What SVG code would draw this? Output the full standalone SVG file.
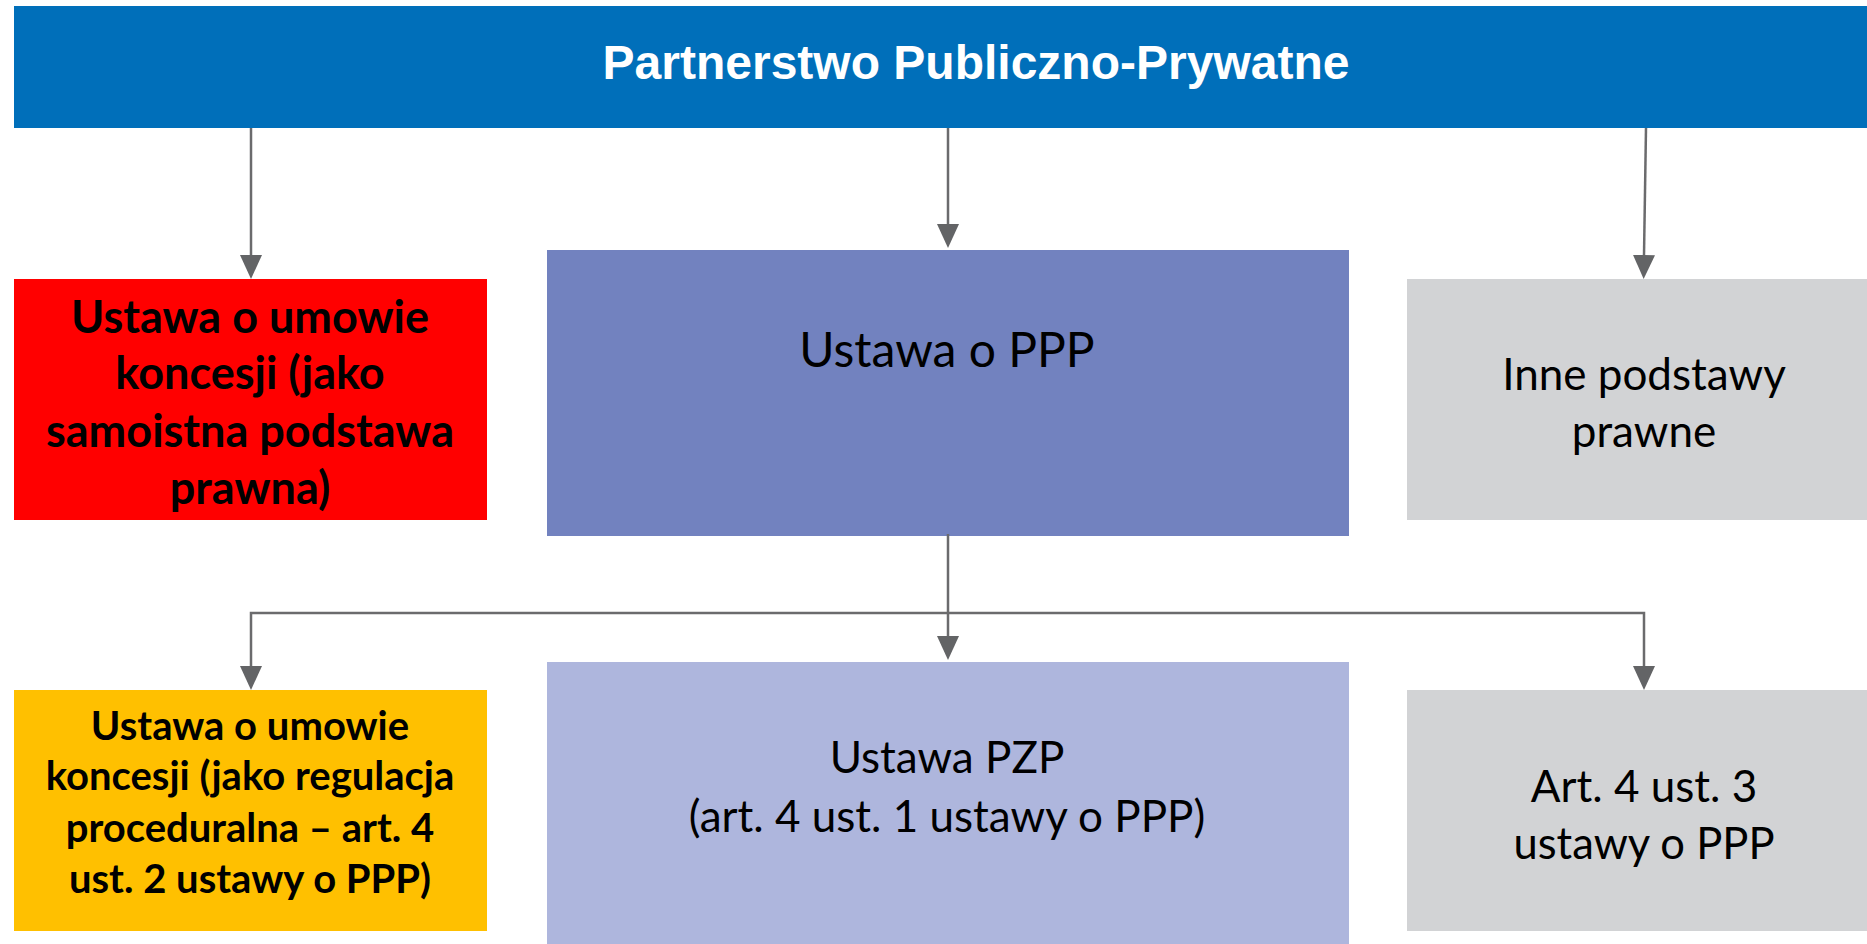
<svg xmlns="http://www.w3.org/2000/svg" width="1867" height="944" viewBox="0 0 1867 944">
<style>
.conn{fill:none;stroke:#6b6b6d;stroke-width:2.5}
.t{font-family:Lato,"Liberation Sans",sans-serif;text-anchor:middle;fill:#000}
.b{font-weight:bold}
</style>
<defs>
<marker id="ah" viewBox="0 0 24 22" refX="0" refY="11" markerWidth="24" markerHeight="22" markerUnits="userSpaceOnUse" orient="auto">
<path d="M0,0 L24,11 L0,22 Z" fill="#636466"/>
</marker>
</defs>
<rect width="1867" height="944" fill="#fff"/>
<g id="title">
<rect x="14" y="6" width="1853" height="122" fill="#006FBA"/>
<text x="976" y="79" style="font-family:'Liberation Sans',Arial,sans-serif;font-weight:bold;font-size:48px;fill:#fff;text-anchor:middle">Partnerstwo Publiczno-Prywatne</text>
</g>
<g id="n-koncesja">
<rect x="14" y="279" width="473" height="241" fill="#FF0000"/>
<text class="t b" style="font-size:45px"><tspan x="250" y="333">Ustawa o umowie</tspan><tspan x="250" y="389">koncesji (jako</tspan><tspan x="250" y="447">samoistna podstawa</tspan><tspan x="250" y="504">prawna)</tspan></text>
</g>
<g id="n-ppp">
<rect x="547" y="250" width="802" height="286" fill="#7282BF"/>
<text class="t" x="947" y="367" style="font-size:48px">Ustawa o PPP</text>
</g>
<g id="n-inne">
<rect x="1407" y="279" width="460" height="241" fill="#D2D3D5"/>
<text class="t" style="font-size:44px"><tspan x="1644" y="390">Inne podstawy</tspan><tspan x="1644" y="447">prawne</tspan></text>
</g>
<g id="n-proc">
<rect x="14" y="690" width="473" height="241" fill="#FFC000"/>
<text class="t b" style="font-size:40px"><tspan x="250" y="740">Ustawa o umowie</tspan><tspan x="250" y="790">koncesji (jako regulacja</tspan><tspan x="250" y="842">proceduralna – art. 4</tspan><tspan x="250" y="893">ust. 2 ustawy o PPP)</tspan></text>
</g>
<g id="n-pzp">
<rect x="547" y="662" width="802" height="282" fill="#AEB6DD"/>
<text class="t" style="font-size:44px"><tspan x="947" y="773">Ustawa PZP</tspan><tspan x="947" y="832">(art. 4 ust. 1 ustawy o PPP)</tspan></text>
</g>
<g id="n-art">
<rect x="1407" y="690" width="460" height="241" fill="#D2D3D5"/>
<text class="t" style="font-size:44px"><tspan x="1644" y="802">Art. 4 ust. 3</tspan><tspan x="1644" y="859" style="font-size:43.5px">ustawy o PPP</tspan></text>
</g>
<g id="connectors">
<path class="conn" d="M251,128 V255" marker-end="url(#ah)"/>
<path class="conn" d="M948,128 V224" marker-end="url(#ah)"/>
<path class="conn" d="M1646,128 L1644,255" marker-end="url(#ah)"/>
<path class="conn" d="M948,534 V636" marker-end="url(#ah)"/>
<path class="conn" d="M948,613 H251 V666" marker-end="url(#ah)"/>
<path class="conn" d="M948,613 H1644 V666" marker-end="url(#ah)"/>
</g>
</svg>
